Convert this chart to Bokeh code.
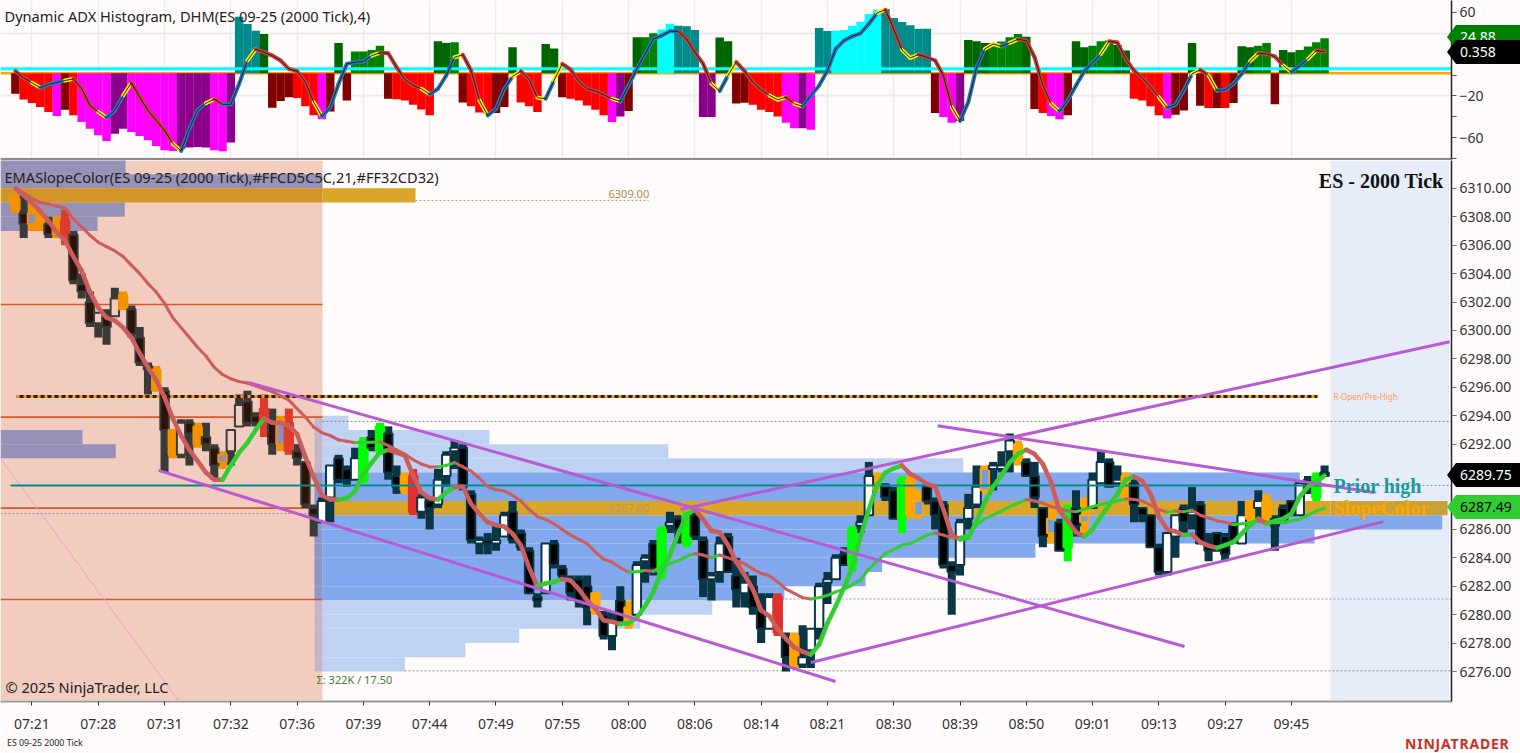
from bokeh.embed import file_html
from bokeh.resources import INLINE
from bokeh.plotting import figure
from bokeh.layouts import column
from bokeh.models import (ColumnDataSource, Range1d, FixedTicker, Grid, Label, Div,
                          NumeralTickFormatter)

time_labels = ["07:21","07:28","07:31","07:32","07:36","07:39","07:44","07:49","07:55","08:00",
               "08:06","08:14","08:21","08:30","08:39","08:50","09:01","09:13","09:27","09:45"]

hist_values = [-19.7,-25.1,-28.6,-32.4,-37.1,-41.0,-34.9,-40.3,-46.7,-53.0,-59.4,-64.8,-57.8,-53.0,-56.2,-60.0,-64.1,-69.5,-73.7,-74.3,
 -72.1,-71.1,-70.5,-71.1,-73.7,-74.6,-66.3,54.0,47.0,40.6,37.5,-33.0,-26.7,-22.9,-23.8,-31.7,-40.3,-44.1,-36.5,28.9,
 -26.0,20.6,20.6,22.2,26.3,-24.4,-24.8,-26.0,-30.2,-34.6,-40.3,30.5,28.9,29.5,-27.9,-31.7,-37.5,-38.7,-38.1,-32.4,
 24.8,-27.9,-31.7,-37.1,27.9,23.5,-22.9,-24.4,-26.0,-30.8,-34.9,-40.3,-46.7,-41.3,-36.2,34.3,34.3,38.1,41.6,47.3,
 45.4,44.8,41.3,-41.9,-41.9,34.0,30.5,-28.9,-28.3,-30.2,-34.9,-37.1,-41.3,-47.3,-52.7,-52.7,-54.0,43.2,40.3,40.6,
 41.3,45.4,49.2,56.5,60.6,61.3,52.7,48.9,45.7,42.5,42.5,-38.1,-41.9,-47.3,-45.7,31.7,30.5,28.9,28.9,30.2,
 34.3,37.5,34.9,-34.3,-38.1,-41.0,-44.1,-40.3,30.5,24.8,26.3,30.5,31.1,27.0,21.6,-24.4,-26.0,-31.7,-40.3,-43.2,
 -39.7,-35.6,28.9,-31.1,-33.3,-33.3,-33.3,-28.6,25.7,24.8,26.3,28.9,-29.8,22.2,20.0,22.2,25.4,29.5,33.3]

hist_kinds = list("MRRRRPMRPP" "PPDDPPPPPP" "DDDDPPDTTT" "GMMMRRRPMG" "MLLLLMRRRR"
                  "RGGLMRRRMM" "GRRRGGMRRR" "RRPDMGLLCC" "TTTDDGGMMR" "RRRPPDPTTC"
                  "CCCCCTTTTT" "TMPPDGGGLL" "LLGMRPPMGG" "LLLGGRRRRP" "MMGMRMRMGG" "LLMGGLLLL")

dhm_values = [1.9,-4.4,-9.2,-14.0,-10.8,-8.9,-7.0,-5.4,-14.9,-30.8,-37.1,-42.5,-35.6,-21.3,-9.2,-22.9,-35.6,-45.1,-54.6,-67.3,
 -74.3,-53.0,-34.9,-28.6,-24.8,-29.8,-29.8,-10.2,12.1,22.9,20.0,16.8,12.1,4.1,1.9,-8.6,-27.6,-41.3,-32.4,-10.2,
 8.9,10.5,11.1,16.8,19.4,19.0,5.7,-6.0,-11.7,-14.9,-20.3,-14.9,-2.2,15.2,17.5,2.5,-26.0,-40.3,-34.0,-14.9,
 -3.2,1.9,-6.0,-23.5,-24.4,-7.0,8.9,3.5,-7.9,-14.9,-17.1,-20.6,-24.4,-27.0,-11.7,4.1,18.4,32.7,35.9,40.0,
 40.0,32.7,20.0,8.9,-10.2,-17.1,-2.2,10.5,1.9,-8.6,-15.9,-21.3,-25.4,-22.9,-29.2,-31.7,-21.3,-11.7,2.5,23.2,
 31.1,35.2,38.1,47.0,57.5,60.6,42.2,22.2,14.6,17.8,15.2,12.1,-2.2,-32.4,-45.7,-27.6,5.7,23.2,27.9,25.7,
 28.9,32.4,31.1,15.2,-11.7,-29.2,-36.5,-26.0,-11.7,1.9,9.8,18.4,30.5,29.2,13.7,2.5,-4.4,-13.3,-22.9,-33.0,
 -30.2,-16.5,-0.6,3.2,-2.2,-16.5,-15.9,-10.2,-0.6,11.4,19.0,18.4,15.9,7.3,1.0,7.3,13.7,21.6,20.6]

opens = [6309.25,6308.25,6307.5,6308.25,6307.5,6307.5,6307.75,6306.75,6303.25,6302,6300.5,6301,6301,6301.5,6301.5,6299.5,6297.5,6297.25,6295.75,6293,
 6291.25,6293.5,6293.25,6292.5,6291.75,6290.75,6291.5,6293.25,6295,6294,6294.5,6293.5,6292,6293.5,6291.5,6290.75,6287.5,6286.5,6288.25,6291,
 6290.25,6289.5,6289.5,6292.5,6291.5,6292.75,6289.75,6289.75,6289.75,6287.25,6288,6287.75,6289.75,6291.5,6291.75,6288.5,6285,6285.25,6285,6285.5,
 6287.25,6285.75,6284.5,6281.25,6281.5,6285,6283.25,6282.5,6282.5,6282,6281.5,6280,6278.5,6281,6280.5,6280,6283.75,6285,6283,6286.25,
 6286.75,6285,6287,6285.25,6282.5,6283,6285.5,6282.75,6281.5,6282,6280.25,6279,6281.25,6278.5,6278.5,6276.5,6277.5,6279,6282.25,6282.5,
 6284.25,6283.5,6286.25,6287,6289,6289,6288.75,6286.75,6289.5,6287,6289,6288,6287.75,6283.5,6283.5,6286.75,6287.75,6288.75,6290.25,6290.25,
 6291.5,6291,6290.75,6289.75,6287.5,6285.75,6286.5,6284.75,6287.5,6286.5,6287.5,6289.25,6290.75,6289.25,6289.75,6289.25,6287.5,6287,6284.75,6283,
 6285.5,6287.5,6287,6287.75,6285,6285.75,6285.5,6286.25,6285,6288,6287.5,6288,6286.75,6287.5,6288,6287,6289.5,6288.25,6290]
highs = [6309.5,6309.5,6309,6308.5,6308,6308,6308.5,6307,6304,6302.75,6301.25,6301.5,6303,6302.75,6301.75,6300.25,6297.75,6297.5,6296,6293,
 6293.75,6293.75,6293.5,6293.5,6292,6291.5,6293,6295.5,6295.75,6294.25,6295.5,6294.5,6294,6294.5,6292,6290.75,6287.75,6288.25,6290.5,6291.25,
 6290.5,6291.75,6292.5,6293,6293.5,6293.25,6290.5,6290,6290.25,6288.5,6288.25,6290.25,6291.5,6292.25,6292,6288.75,6285.5,6285.75,6286.25,6287.25,
 6288,6286,6284.75,6281.5,6285,6285.25,6283.5,6282.75,6282.75,6282.75,6281.5,6280.25,6280.25,6282,6281,6283.75,6284.25,6285.25,6286.25,6287.25,
 6287,6287.25,6287.25,6285.5,6283,6285.5,6285.75,6284,6283,6282.75,6281.5,6281.5,6281.5,6278.75,6278.75,6279.25,6279,6282.25,6283,6284.25,
 6284.75,6286.25,6287,6290.75,6290,6289.25,6289,6289.75,6289.75,6288.75,6289,6288.25,6288,6283.75,6286.75,6288.5,6290.5,6290.5,6290.75,6291.5,
 6292.75,6292.25,6291,6290.75,6287.5,6287.5,6286.75,6287.75,6288.75,6288.25,6290,6291.5,6291,6290.5,6290,6289.75,6287.5,6287,6285,6285.75,
 6287,6287.75,6289,6288,6285.75,6285.75,6285.75,6286.5,6288,6288,6288.75,6288.5,6287,6287.75,6288,6289.25,6289.75,6290,6290.5]
lows = [6308.25,6306.5,6307,6307,6306.5,6306.5,6306,6303.25,6302.25,6300.25,6299.5,6299,6301,6301.5,6299.5,6297.5,6295.5,6295.75,6290,6291,
 6291,6290.5,6291.75,6291.5,6289.5,6290.25,6290.5,6293.25,6293.25,6293.25,6292.5,6291.25,6291.5,6291.25,6290.5,6287.5,6285.5,6286.5,6286.5,6289.25,
 6289,6289.5,6289.25,6291.5,6291.25,6289.5,6288.5,6288.5,6287,6286.75,6286,6287.5,6289,6290.25,6288.75,6285,6284.25,6284.25,6284.5,6285.5,
 6285,6284.5,6281.5,6280.5,6281.5,6283.25,6282.5,6281,6280.5,6279.25,6280,6278.25,6277.5,6279.25,6279,6280,6282.25,6282.75,6282.5,6285.75,
 6285,6284.75,6285.25,6281.25,6281,6282.25,6283,6280.5,6280.5,6280,6278,6279,6278.5,6276,6276.25,6276.25,6276.25,6278.25,6280.75,6282.5,
 6283.5,6283,6285.75,6287,6288.75,6288,6286.75,6285.75,6286.75,6286.75,6287.75,6286,6283.25,6280,6282.75,6286,6287.5,6288.5,6288.75,6290,
 6290,6290.5,6289.75,6287.5,6284.75,6285,6284.5,6283.75,6285.5,6285.75,6287.5,6289.25,6289,6289,6288,6286.5,6286.5,6284.75,6282.75,6282.75,
 6284,6285.75,6286,6285,6283.75,6284.5,6283.75,6285,6285,6286.5,6286.5,6286.25,6284.5,6286.5,6287,6287,6288.5,6288,6289.75]
closes = [6308.5,6307.5,6308.25,6307.25,6306.75,6306.75,6306.75,6303.5,6302.75,6300.5,6301.25,6300.25,6302.25,6302.5,6299.75,6297.75,6297.25,6295.75,6293,6291.25,
 6293.5,6292.75,6292,6292,6290.5,6291.25,6293,6294.75,6293.5,6293.5,6293.25,6292,6293.5,6291.5,6291,6287.75,6287,6288,6290.5,6289.5,
 6289.5,6291,6292.25,6291.75,6293.25,6290,6289,6288.75,6287.25,6288.25,6287.5,6289.5,6291.25,6291.75,6289,6285.25,6285.25,6285,6285.25,6287,
 6285.25,6284.75,6281.5,6281,6285,6283.5,6282.75,6281.5,6281,6280.5,6280.25,6278.5,6279.5,6279.5,6279.25,6283.5,6284,6283.25,6286,6286.5,
 6286,6287,6285.5,6282.5,6282.75,6285,6283,6281.75,6282.25,6280.5,6279,6281.25,6278.75,6277,6276.5,6277,6279,6282,6282.5,6284,
 6283.5,6286,6286.5,6289.75,6288.75,6288.25,6286.75,6289.5,6287,6288,6288,6287,6283.5,6283,6286.5,6287.5,6289,6290.25,6290.5,6290.5,
 6292.25,6292,6289.75,6288.25,6285.5,6286.75,6284.5,6287.5,6286.25,6287,6289.5,6290.75,6289,6289.5,6288.25,6287.75,6287,6284.75,6283,6285.75,
 6287,6286.5,6287.25,6285,6284.5,6284.5,6284.25,6285.25,6287,6286.75,6288,6286.5,6286.25,6286.5,6287,6289.25,6288.75,6289.75,6289.75]

orange_bars = [0,3,5,13,17,19,22,47,70,74,94,104,108,121,134,149,151]
hollow_bars = [2,25,32,109,117,125,129]
red_bars = [6,30,33,48,92]
lime_bars = [42,44,78,81,101,107,127,157]

ema_fast = [6310,6309.5,6309,6308.4,6307.7,6306.9,6306.3,6305.2,6304.2,6302.7,6301.6,6300.9,6300.7,6300.2,6299.5,6298.4,6297.4,6296.5,6295.3,6293.8,
 6292.6,6291.6,6290.8,6290,6289.5,6289.5,6290.5,6291.4,6292.1,6293,6293.8,6293.5,6293.5,6293.3,6292.7,6291.1,6289.7,6288.4,6288.1,6288.1,
 6288.2,6288.7,6289.9,6290.7,6291.4,6291.6,6291.4,6291.2,6289.8,6288.6,6288.2,6288.1,6288.6,6289,6289,6287.8,6287.1,6286.5,6286.3,6286.2,
 6285.7,6284.9,6283.3,6282,6282.2,6282.3,6282.5,6282.4,6281.8,6281,6280.4,6279.6,6279.5,6279.35,6279.4,6279.8,6280.6,6281.6,6283.1,6284.2,
 6285.7,6287,6287.4,6286.7,6285.9,6285.8,6284.9,6283.7,6282.8,6281.8,6280.3,6279.9,6279,6278.3,6277.7,6277.4,6277.2,6277.9,6279.4,6280.6,
 6281.9,6283.3,6285.5,6287.4,6289.1,6290,6290.3,6290.5,6289.9,6289.6,6289.2,6289,6287.4,6285.6,6285.3,6285.4,6286.6,6287.9,6289,6289.8,
 6290.7,6291.3,6291.6,6291.3,6290.6,6289.3,6287.3,6286.6,6285.8,6285.5,6286,6286.9,6287.7,6288.5,6289.5,6289.7,6289.4,6288.5,6286.9,6286,
 6285.85,6285.6,6285.65,6285.1,6284.85,6284.7,6284.9,6285.1,6285.7,6286.3,6286.75,6286.4,6286.6,6286.75,6287.1,6288.3,6289,6289.3,6289.8]
ema_slow = [6310,6309.7,6309.3,6309,6308.9,6308.75,6308.6,6307.85,6307.3,6306.7,6306.2,6305.9,6305.6,6305.2,6304.6,6304,6303.3,6302.7,6301.9,6300.9,
 6300.2,6299.5,6298.8,6298.2,6297.4,6296.9,6296.6,6296.4,6296.3,6296.1,6295.9,6295.7,6295.4,6295.1,6294.5,6293.9,6293.2,6292.8,6292.6,6292.3,
 6292.2,6292.1,6292.12,6292.14,6292.16,6291.9,6291.6,6291.3,6290.9,6290.6,6290.4,6290.4,6290.5,6290.7,6290.4,6290.1,6289.6,6289,6288.8,6288.7,
 6288.4,6288,6287.4,6286.9,6286.7,6286.4,6286,6285.6,6285.3,6285,6284.4,6283.9,6283.7,6283.3,6283,6283.02,6283.1,6283.05,6283.4,6283.6,
 6283.8,6284.1,6284.3,6284.2,6284,6284.2,6284,6283.8,6283.6,6283.2,6282.9,6282.75,6282.3,6281.8,6281.5,6281.2,6281.1,6281.2,6281.35,6281.6,
 6281.8,6282.1,6282.45,6283.2,6283.8,6284.3,6284.6,6284.9,6285,6285.3,6285.6,6285.75,6285.6,6285.4,6285.45,6285.6,6286.3,6286.75,6287,6287.3,
 6287.6,6287.85,6288.1,6288,6287.85,6287.6,6287.45,6287.3,6287.25,6287.4,6287.6,6287.75,6287.9,6288,6288.15,6288.1,6288,6287.7,6287.4,6287.2,
 6287.3,6287.25,6287.35,6287,6286.8,6286.6,6286.5,6286.35,6286.4,6286.45,6286.7,6286.5,6286.45,6286.5,6286.6,6286.7,6287,6287.3,6287.5]

vp_prior_prices = [6311,6310,6308,6307,6292,6291]
vp_prior_ends = [13.3,37.06,13.2,9.9,8.1,12.1]
vp_session_prices = [6293,6292,6291,6290,6289,6288,6286,6285,6284,6283,6282,6281,6280,6279,6278,6277,6276]
vp_session_ends = [40.2,57.2,78.8,114.4,155,155,172.2,156.8,123.1,104.6,102.6,92.8,84.1,75.4,60.8,54.3,47]
vp_session_medium = [0,0,0,0,1,1,1,1,1,1,1,1,0,0,0,0,0]

red_levels = [6301.83,6293.9,6287.5,6281.07]
tline_x0 = [17.27,28.13,80.27,111.3,96]
tline_y0 = [6290.15,6296.34,6287.4,6293.3,6276.63]
tline_x1 = [98.98,141.1,173.1,164,165.1]
tline_y1 = [6275.3,6277.76,6299.2,6288.6,6286.55]

BG = "#fffbfa"
n = len(hist_values)
idx = list(range(n))
sizes = [len(a) for a in (hist_values, hist_kinds, dhm_values, opens, highs, lows, closes, ema_fast, ema_slow)]
assert len(set(sizes)) == 1, str(sizes)

def X(px): return (px - 14.9) / 8.286
def Y(py): return 6276 + (671 - py) / 14.21
def YT(py): return (74.5 - py) / 1.047

x0, x1 = X(0), X(1451)
hist_base = 1.75

# ---------- top pane ----------
top = figure(width=1520, height=160, output_backend="svg", toolbar_location=None,
             x_range=Range1d(x0, x1), y_range=Range1d(YT(159), YT(0)),
             x_axis_location=None, y_axis_location="right",
             background_fill_color=BG, border_fill_color=BG,
             min_border_left=0, min_border_right=69, min_border_top=0, min_border_bottom=1)
top.outline_line_color = None
top.grid.visible = False
tick_idx = [2 + 8 * k for k in range(len(time_labels))]
top.add_layout(Grid(dimension=0, ticker=FixedTicker(ticks=tick_idx), grid_line_color="#ebebeb", grid_line_width=1.5))
top.add_layout(Grid(dimension=1, ticker=FixedTicker(ticks=[40, -20, -80]), grid_line_color="#ebebeb", grid_line_width=2))

kind_color = {"M": "#800000", "R": "#ff0000", "P": "#ff00ff", "D": "#8b008b", "T": "#008b8b",
              "C": "#00ffff", "G": "#006400", "L": "#008000"}
hist_src = ColumnDataSource(dict(
    x=idx,
    top=[hist_base + max(v, 0) for v in hist_values],
    bottom=[hist_base + min(v, 0) for v in hist_values],
    color=[kind_color[k] for k in hist_kinds]))
top.segment(x0=[x0], x1=[x1], y0=[hist_base], y1=[hist_base], line_color="#ffa500", line_width=2.5)
top.vbar(x="x", width=1.02, top="top", bottom="bottom", fill_color="color", line_color=None, source=hist_src)
top.segment(x0=[x0], x1=[x1], y0=[5.9], y1=[5.9], line_color="#00ffff", line_width=3)

seg_xs, seg_ys, seg_c = [], [], []
for i in range(n - 1):
    d = dhm_values[i + 1] - dhm_values[i]
    nxt = dhm_values[i + 2] - dhm_values[i + 1] if i + 2 < n else d
    col = "#2878b8" if d >= 0 else "#c83c3c"
    if d * nxt < 0:
        col = "#ffee00"
    seg_xs.append([i, i + 1])
    seg_ys.append([hist_base + dhm_values[i], hist_base + dhm_values[i + 1]])
    seg_c.append(col)
top.multi_line(xs="xs", ys="ys", line_color="c", line_width=4, line_cap="round",
               source=ColumnDataSource(dict(xs=seg_xs, ys=seg_ys, c=seg_c)))
top.line(idx, [hist_base + v for v in dhm_values], line_color="#222222", line_width=1)

ax = top.yaxis[0]
ax.ticker = FixedTicker(ticks=[60, 20, -20, -60], minor_ticks=[40, 0, -40, -80])
ax.axis_line_color = "#222222"
ax.axis_line_width = 1.5
ax.major_tick_line_color = "#555555"
ax.minor_tick_line_color = "#555555"
ax.major_tick_in = 0
ax.major_tick_out = 5
ax.minor_tick_in = 0
ax.minor_tick_out = 5
ax.major_label_standoff = 3
ax.major_label_text_font = "Noto Sans"
ax.major_label_text_font_size = "14px"
ax.major_label_text_color = "#333333"

top.segment(x0=[x0], x1=[x1], y0=[YT(159)], y1=[YT(159)], line_color="#222222", line_width=2)

top.add_layout(Label(x=X(4), y=YT(15), text="Dynamic ADX Histogram, DHM(ES 09-25 (2000 Tick),4)",
                     text_color="#222222", text_font="Noto Sans", text_font_size="14.6px",
                     text_baseline="middle", level="annotation"))

# ---------- main pane ----------
main = figure(width=1520, height=593, output_backend="svg", toolbar_location=None,
              x_range=Range1d(x0, x1), y_range=Range1d(Y(701), Y(160)),
              y_axis_location="right",
              background_fill_color=BG, border_fill_color=BG,
              min_border_left=0, min_border_right=69, min_border_top=0, min_border_bottom=52)
main.outline_line_color = None
main.grid.visible = False

pink = "#f2cdbf"
sess = X(322)
ybot = Y(699.5)
main.quad(left=[x0], right=[sess], bottom=[ybot], top=[Y(160)], fill_color=pink, line_color=None)
main.quad(left=[X(1330)], right=[X(1449)], bottom=[ybot], top=[Y(160)], fill_color="#e6edf9", line_color=None)

# prior-session profile
main.quad(left=[x0] * len(vp_prior_prices), right=vp_prior_ends,
          bottom=vp_prior_prices, top=[p + 1 for p in vp_prior_prices], fill_color="#9691b7", line_color=None)
main.quad(left=[x0], right=[sess], bottom=[6309], top=[6310], fill_color="#d39527", line_color=None)
main.quad(left=[sess], right=[X(415)], bottom=[6309], top=[6310], fill_color="#daa628", line_color=None)

# session profile
light, medium = "#c0d2f3", "#82a8ed"
main.quad(left=[sess] * len(vp_session_prices), right=vp_session_ends,
          bottom=vp_session_prices, top=[p + 1 for p in vp_session_prices],
          fill_color=[medium if m else light for m in vp_session_medium], line_color=None)
main.quad(left=[X(314)] * len(vp_session_prices), right=[sess] * len(vp_session_prices),
          bottom=vp_session_prices, top=[p + 1 for p in vp_session_prices],
          fill_color=["#8b96c8" if m else "#c3b6c8" for m in vp_session_medium], line_color=None)
main.quad(left=[X(314)], right=[sess], bottom=[6287], top=[6288], fill_color="#8b96c8", line_color=None)
main.quad(left=[sess], right=[X(1330)], bottom=[6287], top=[6288], fill_color="#daa628", line_color=None)
main.quad(left=[X(1330)], right=[X(1447)], bottom=[6287], top=[6288], fill_color="#c8a238", line_color=None)

# level lines
main.segment(x0=[x0] * 4, x1=[sess] * 4, y0=red_levels, y1=red_levels, line_color="#d2592a", line_width=1.6)
main.segment(x0=[sess, X(404)], x1=[x1, x1], y0=[6293.6, 6276.05], y1=[6293.6, 6276.05],
             line_color="#8a8a8a", line_width=1, line_dash="2 2")
main.segment(x0=[X(785)], x1=[x1], y0=[6281.1], y1=[6281.1], line_color="#7aa0e8", line_width=1, line_dash="2 2")
main.segment(x0=[x0], x1=[X(648)], y0=[6287.12], y1=[6287.12], line_color="#9a8fa0", line_width=1, line_dash="2 2")
main.segment(x0=[X(415)], x1=[X(648)], y0=[6309.15], y1=[6309.15], line_color="#b89a60", line_width=1, line_dash="2 2")
main.segment(x0=[X(1330)], x1=[x1], y0=[6289.09], y1=[6289.09], line_color="#6a9ae8", line_width=1, line_dash="2 2")
main.segment(x0=[x0], x1=[X(178)], y0=[Y(458)], y1=[Y(700)], line_color="#f0a0c8", line_width=1)

# candles
wick_c, body_c, fill_c = [], [], []
for i in range(n):
    left = i <= 36
    dark = "#3a3b38" if left else "#0a3545"
    down = "#2c1308" if left else "#000000"
    up = pink if left else "#ffffff"
    orange = "#f39200" if left else "#ffa500"
    red = "#df3a2a" if left else "#e03030"
    hollow = "#8a90bc" if left else "#6d9eeb"
    if i in orange_bars:
        wick_c.append(orange); body_c.append(orange); fill_c.append(orange)
    elif i in hollow_bars:
        wick_c.append(orange); body_c.append(orange); fill_c.append(hollow)
    elif i in red_bars:
        wick_c.append(red); body_c.append(red); fill_c.append(red)
    elif i in lime_bars:
        wick_c.append("#00ff00"); body_c.append("#00ff00"); fill_c.append("#00ff00")
    else:
        wick_c.append(dark); body_c.append(dark)
        fill_c.append(up if closes[i] >= opens[i] else down)
c_src = ColumnDataSource(dict(x=idx, o=[min(a, b) for a, b in zip(opens, closes)],
                              c=[max(a, b) for a, b in zip(opens, closes)],
                              h=highs, l=lows, wc=wick_c, bc=body_c, fc=fill_c))
main.vbar(x="x", width=0.97, top="h", bottom="l", fill_color="wc", line_color=None, source=c_src)
main.vbar(x="x", width=1.02, top="c", bottom="o", fill_color="fc", line_color="bc", line_width=2, source=c_src)

# teal prior-high line and the open line
main.segment(x0=[X(10)], x1=[X(1330)], y0=[6289.09], y1=[6289.09], line_color="#008b8b", line_width=1.8)
main.segment(x0=[X(16)], x1=[X(1317)], y0=[6295.35], y1=[6295.35], line_color="#2a2018", line_width=3)
main.segment(x0=[X(16)], x1=[X(1317)], y0=[6295.35], y1=[6295.35], line_color="#ff9a1a", line_width=3, line_dash="3 4")

# slope-coloured EMAs
def ema(values, width):
    xs, ys, cs = [], [], []
    for i in range(len(values) - 1):
        xs.append([i, i + 1])
        ys.append([values[i], values[i + 1]])
        cs.append("#32cd32" if values[i + 1] > values[i] else "#cd5c5c")
    main.multi_line(xs="xs", ys="ys", line_color="c", line_width=width, line_cap="round",
                    source=ColumnDataSource(dict(xs=xs, ys=ys, c=cs)))

ema(ema_slow, 3)
ema(ema_fast, 4.5)

main.segment(x0=tline_x0, x1=tline_x1, y0=tline_y0, y1=tline_y1, line_color="#b85ad2", line_width=3)

ay = main.yaxis[0]
ay.ticker = FixedTicker(ticks=list(range(6276, 6312, 2)))
ay.formatter = NumeralTickFormatter(format="0.00")
ay.axis_line_color = "#222222"
ay.axis_line_width = 1.5
ay.major_tick_line_color = "#777777"
ay.major_tick_in = 0
ay.major_tick_out = 5
ay.minor_tick_line_color = None
ay.major_label_standoff = 3
ay.major_label_text_font = "Noto Sans"
ay.major_label_text_font_size = "14px"
ay.major_label_text_color = "#333333"

axx = main.xaxis[0]
axx.ticker = FixedTicker(ticks=tick_idx)
axx.major_label_overrides = {t: s for t, s in zip(tick_idx, time_labels)}
axx.axis_line_color = "#999999"
axx.axis_line_width = 2
axx.major_tick_line_color = "#333333"
axx.major_tick_in = 0
axx.major_tick_out = 4
axx.minor_tick_line_color = None
axx.major_label_standoff = 8
axx.major_label_text_font = "Noto Sans"
axx.major_label_text_font_size = "14px"
axx.major_label_text_color = "#333333"

def txt(px, py, s, color, size, font="Noto Sans", style="normal", align="left"):
    main.add_layout(Label(x=X(px), y=Y(py), text=s, text_color=color, text_font=font,
                          text_font_size=size, text_font_style=style, text_align=align,
                          text_baseline="middle", level="annotation"))

txt(4, 176, "EMASlopeColor(ES 09-25 (2000 Tick),#FFCD5C5C,21,#FF32CD32)", "#222222", "14.6px")
txt(5, 686, "\u00a9 2025 NinjaTrader, LLC", "#222222", "14.6px")
txt(316, 679, "\u03a3: 322K / 17.50", "#4a7a3a", "11px")
txt(608, 193, "6309.00", "#b08a50", "11px")
txt(608, 507, "6287.00", "#b89a5a", "11px")
txt(1333, 396, "R-Open/Pre-High", "#ff9a50", "8px")
txt(1333, 485, "Prior high", "#1a9a9a", "20px", "Liberation Serif", "bold")
txt(1333, 507, "SlopeColor", "#ffa500", "20px", "Liberation Serif", "bold")
txt(1443, 180, "ES - 2000 Tick", "#111111", "20px", "Liberation Serif", "bold", "right")

# Value tags and footer lie over the axis area, outside the plot frames
def html_tag(px_top, text, fill, tcolor):
    return Div(text=text, width=73, height=24, margin=0,
               styles={"position": "absolute", "left": "1447px", "top": f"{px_top}px", "background": fill,
                       "color": tcolor, "font": "14px 'Noto Sans'", "line-height": "24px", "padding-left": "13px",
                       "box-sizing": "border-box", "z-index": "5",
                       "clip-path": "polygon(0 50%, 9px 0, 100% 0, 100% 100%, 9px 100%)"})

def html_text(left, top_px, width, text, font, color, extra=None):
    st = {"position": "absolute", "left": f"{left}px", "top": f"{top_px}px", "color": color,
          "font": font, "line-height": "16px", "z-index": "5", "white-space": "nowrap"}
    st.update(extra or {})
    return Div(text=text, width=width, height=16, margin=0, styles=st)

divs = [html_tag(25, "24.88", "#008000", "#ffffff"),
        html_tag(40, "0.358", "#000000", "#ffffff"),
        html_tag(463, "6289.75", "#000000", "#ffffff"),
        html_tag(495, "6287.49", "#32cd32", "#000000"),
        html_text(7, 735, 90, "ES 09-25 2000 Tick", "8.8px 'Noto Sans'", "#222222"),
        html_text(1405, 736, 112, "NINJATRADER", "bold 14px 'Noto Sans'", "#c8312a", {"letter-spacing": "0.8px"})]

layout = column(top, main, *divs, spacing=0)
open("out.html", "w").write(file_html(layout, INLINE))
